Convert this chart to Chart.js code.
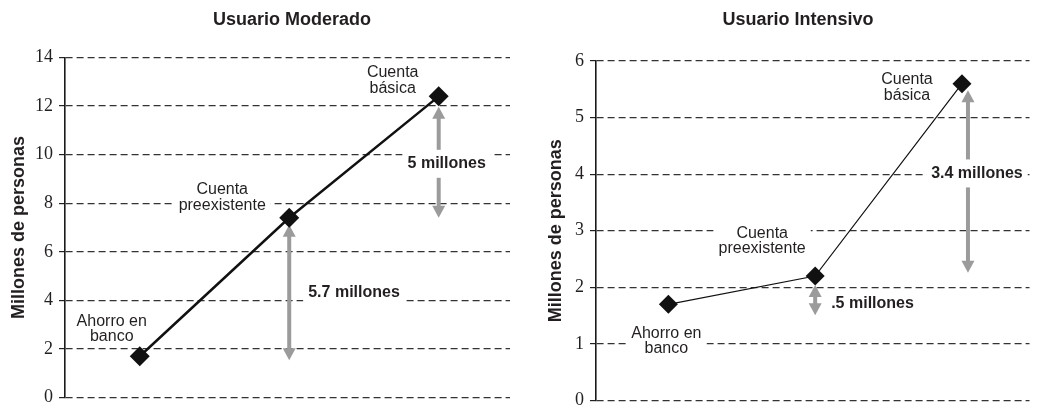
<!DOCTYPE html>
<html>
<head>
<meta charset="utf-8">
<script src="https://cdn.jsdelivr.net/npm/chart.js@4.4.1/dist/chart.umd.min.js"></script>
<style>
  html, body { margin: 0; padding: 0; background: #fff; width: 1039px; height: 406px; overflow: hidden; position: relative; }
  canvas { position: absolute; top: 0; }
  #moderado { left: 0; }
  #intensivo { left: 520px; }
</style>
</head>
<body>
<canvas id="moderado" width="520" height="420" style="width:520px;height:420px"></canvas>
<canvas id="intensivo" width="519" height="420" style="width:519px;height:420px"></canvas>
<script>
// Categories (one note per point, two lines each)
const categories = [['Ahorro en', 'banco'], ['Cuenta', 'preexistente'], ['Cuenta', 'básica']];

// Millions of people per user type
const moderadoValues = [1.7, 7.4, 12.4];
const intensivoValues = [1.7, 2.2, 5.6];

// Y-axis ticks
const moderadoTicks = [0, 2, 4, 6, 8, 10, 12, 14];
const intensivoTicks = [0, 1, 2, 3, 4, 5, 6];

// Gap labels between consecutive points
const moderadoGaps = ['5.7 millones', '5 millones'];
const intensivoGaps = ['.5 millones', '3.4 millones'];

// Panel titles
const titles = ['Usuario Moderado', 'Usuario Intensivo'];
const axisTitle = 'Millones de personas';

const INK = '#231f20';
const SANS = '"Liberation Sans", Arial, Helvetica, sans-serif';
const SERIF = '"Liberation Serif", "Times New Roman", serif';

function textBox(ctx, lines, x, cy, font, lh, align, padX, padY) {
  ctx.font = font;
  const w = Math.max(...lines.map(l => ctx.measureText(l).width));
  const left = align === 'left' ? x : x - w / 2;
  const h = lines.length * lh;
  ctx.fillStyle = '#fff';
  ctx.fillRect(left - padX, cy - h / 2 - padY, w + 2 * padX, h + 2 * padY);
  ctx.fillStyle = INK;
  ctx.textBaseline = 'middle';
  ctx.textAlign = align === 'left' ? 'left' : 'center';
  lines.forEach((l, j) => {
    ctx.fillText(l, x, cy - (lines.length - 1) * lh / 2 + j * lh);
  });
}

function drawArrow(ctx, x, top, bot) {
  const hw = 6.5, hl = 12;
  ctx.strokeStyle = '#9b9b9b';
  ctx.fillStyle = '#9b9b9b';
  ctx.lineWidth = 4;
  ctx.beginPath();
  ctx.moveTo(x, top + hl - 1);
  ctx.lineTo(x, bot - hl + 1);
  ctx.stroke();
  ctx.beginPath();
  ctx.moveTo(x, top); ctx.lineTo(x + hw, top + hl); ctx.lineTo(x - hw, top + hl); ctx.closePath();
  ctx.fill();
  ctx.beginPath();
  ctx.moveTo(x, bot); ctx.lineTo(x + hw, bot - hl); ctx.lineTo(x - hw, bot - hl); ctx.closePath();
  ctx.fill();
}

// Notes, gap arrows and panel title
const panelNotes = {
  id: 'panelNotes',
  beforeDatasetsDraw(chart, args, o) {
    const ctx = chart.ctx, xs = chart.scales.x, ys = chart.scales.y;
    const pts = chart.data.datasets[0].data;
    ctx.save();
    o.arrows.forEach((a, k) => {
      const x = xs.getPixelForValue(a.to) + a.xOff;
      const top = ys.getPixelForValue(pts[a.to].y) + a.topOff;
      const bot = ys.getPixelForValue(pts[a.to - 1].y) + a.botOff;
      drawArrow(ctx, x, top, bot);
      textBox(ctx, [o.gapLabels[k]], x + a.ldx, (top + bot) / 2 + a.ldy,
              'bold 16px ' + SANS, 16, a.align, 5, 6);
    });
    o.notes.forEach((n, i) => {
      const px = xs.getPixelForValue(pts[i].x), py = ys.getPixelForValue(pts[i].y);
      textBox(ctx, categories[i], px + n.dx, py + n.dy, '16px ' + SANS, 15.5, 'center', 5, 2);
    });
    ctx.restore();
  },
  afterDraw(chart, args, o) {
    const ctx = chart.ctx;
    ctx.save();
    ctx.font = 'bold 18px ' + SANS;
    ctx.fillStyle = INK;
    ctx.textAlign = 'center';
    ctx.textBaseline = 'middle';
    ctx.fillText(o.title, o.titleX, 20);
    ctx.restore();
  }
};

function makeChart(id, values, ticks, cfg) {
  return new Chart(document.getElementById(id), {
    type: 'line',
    data: {
      datasets: [{
        data: categories.map((c, i) => ({ x: i, y: values[i] })),
        borderColor: '#111',
        borderWidth: cfg.lineWidth,
        pointStyle: 'rectRot',
        pointRadius: cfg.pointRadius,
        pointBackgroundColor: '#111',
        pointBorderWidth: 0,
        tension: 0,
        clip: false
      }]
    },
    options: {
      responsive: false,
      animation: false,
      events: [],
      layout: { padding: { top: cfg.top, bottom: 420 - cfg.bottom, left: 0, right: cfg.right } },
      plugins: {
        legend: { display: false },
        tooltip: { enabled: false },
        panelNotes: cfg.notes
      },
      scales: {
        x: { type: 'linear', min: cfg.xMin, max: cfg.xMax, display: false },
        y: {
          min: 0,
          max: ticks[ticks.length - 1],
          afterBuildTicks: s => { s.ticks = ticks.map(v => ({ value: v })); },
          afterFit: s => { s.width = cfg.axisWidth; },
          grid: {
            color: '#333',
            lineWidth: 1.2,
            drawTicks: true,
            tickLength: 6,
            tickBorderDash: [],
            tickColor: '#222'
          },
          border: { display: true, color: '#1a1a1a', width: 1.6, dash: [7, 4] },
          ticks: {
            color: INK,
            padding: 6,
            font: { family: SERIF, size: 18 }
          },
          title: {
            display: true,
            text: axisTitle,
            color: INK,
            font: { family: SANS, size: 18, weight: 'bold' },
            padding: { top: cfg.titlePad, bottom: 0 }
          }
        }
      }
    },
    plugins: [panelNotes]
  });
}

makeChart('moderado', moderadoValues, moderadoTicks, {
  lineWidth: 2.5, pointRadius: 10,
  top: 57.5, bottom: 397.5, right: 7,
  xMin: -0.5, xMax: 2.477, axisWidth: 65, titlePad: 8,
  notes: {
    title: titles[0], titleX: 292, gapLabels: moderadoGaps,
    arrows: [
      { to: 1, xOff: 0, topOff: 7, botOff: 4, align: 'left', ldx: 19, ldy: 0.5 },
      { to: 2, xOff: 0, topOff: 10.5, botOff: 0, align: 'center', ldx: 8, ldy: 1.5 }
    ],
    notes: [ { dx: -28, dy: -27 }, { dx: -67, dy: -20 }, { dx: -46, dy: -16 } ]
  }
});

makeChart('intensivo', intensivoValues, intensivoTicks, {
  lineWidth: 1.2, pointRadius: 9.5,
  top: 61, bottom: 400.5, right: 0,
  xMin: -0.493, xMax: 2.46, axisWidth: 76, titlePad: 25,
  notes: {
    title: titles[1], titleX: 278, gapLabels: intensivoGaps,
    arrows: [
      { to: 1, xOff: 0, topOff: 9, botOff: 11, align: 'left', ldx: 16, ldy: 3 },
      { to: 2, xOff: 6, topOff: 6.5, botOff: -3.3, align: 'center', ldx: 9, ldy: -8 }
    ],
    notes: [ { dx: -2, dy: 37 }, { dx: -53, dy: -35 }, { dx: -55, dy: 4 } ]
  }
});
</script>
</body>
</html>
